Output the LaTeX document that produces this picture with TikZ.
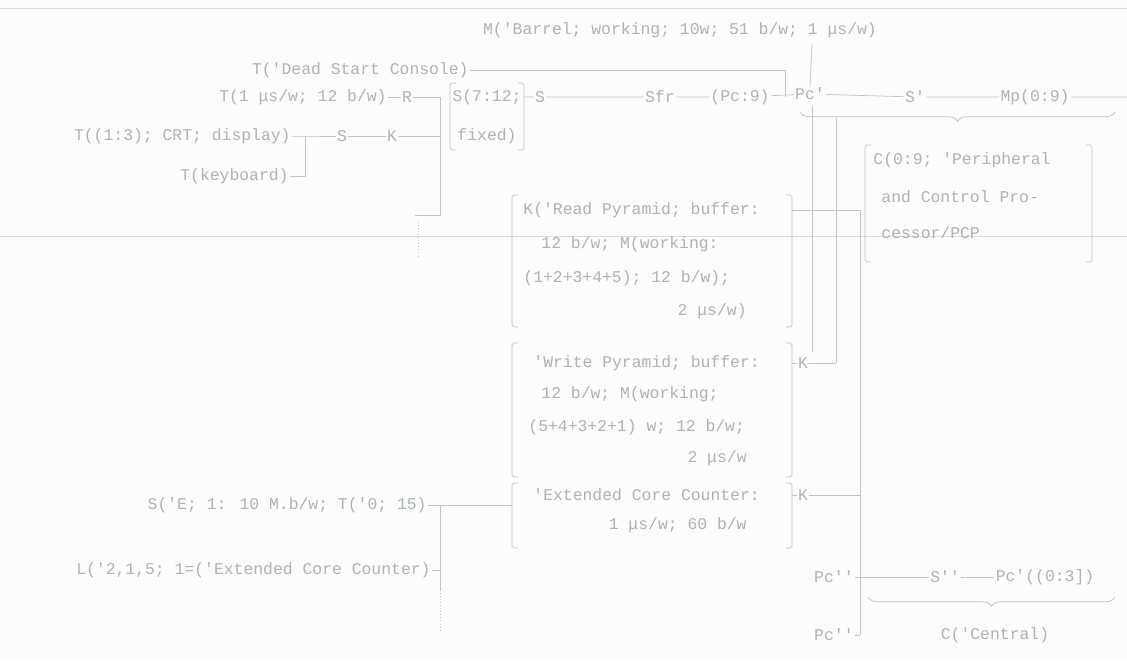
\documentclass[tikz,border=0pt]{standalone}
\usepackage{fontspec}
\newfontfamily\scanfont{Liberation Mono}
\usetikzlibrary{positioning,calc,decorations.pathreplacing}
\definecolor{scanink}{RGB}{190,199,192}
\definecolor{scantext}{RGB}{172,181,175}
\definecolor{scanfaint}{RGB}{216,222,218}
\definecolor{scanpaper}{RGB}{251,252,251}

\begin{document}
\begin{tikzpicture}[
  x=0.03cm,y=-0.03cm,
  wire/.style={draw=scanink,line width=0.6pt},
  dotwire/.style={wire,dotted},
  faint/.style={draw=scanfaint,line width=0.8pt},
  brk/.style={draw=scanink,line width=0.6pt,rounded corners=1.5pt},
  lbl/.style={text=scantext,font=\scanfont\fontsize{14}{16}\selectfont,inner sep=1pt},
  brc/.style={wire,decorate,decoration={brace,mirror,amplitude=8pt}}
]
\fill[scanpaper] (0,0) rectangle (1127,661);
\useasboundingbox (0,0) rectangle (1127,661);
\draw[faint] (0,8) -- (1127,8);
\draw[faint] (0,236) -- (1127,236);

% barrel memory
\node[lbl] (barrel) at (680,30) {M('Barrel; working; 10w; 51 b/w; 1 μs/w)};
\coordinate (mtop) at (812,44);

% console row
\node[lbl,anchor=east] (dstart) at (470,70) {T('Dead Start Console)};
\coordinate (dsbend) at (785,70);
\coordinate (dsjoin) at (785,97);

% bus row
\node[lbl,anchor=east] (tlink) at (388,97) {T(1 μs/w; 12 b/w)};
\node[lbl] (rr) at (407,97) {R};
\coordinate (lbar) at (440,97);
\coordinate (lfoot) at (440,215);
\coordinate (lfootend) at (415,215);
\node[lbl] (sfix1) at (487,97) {S(7:12;};
\node[lbl] (sfix2) at (487,136) {fixed)};
\coordinate (sfixout) at (524,97);
\node[lbl] (sa) at (540,97) {S};
\node[lbl] (sfr) at (660,97) {Sfr};
\node[lbl] (pcn) at (740,97) {(Pc:9)};
\node[lbl] (pcp) at (810,94) {Pc'};
\node[lbl] (sp) at (915,97) {S'};
\node[lbl] (mp) at (1035,97) {Mp(0:9)};
\coordinate (busend) at (1127,97);

% display and keyboard
\node[lbl,anchor=east] (crt) at (292,136) {T((1:3); CRT; display)};
\coordinate (kjoin) at (305,136);
\node[lbl] (sb) at (342,136) {S};
\node[lbl] (kb) at (392,136) {K};
\coordinate (kbar) at (440,136);
\node[lbl,anchor=east] (kbd) at (290,176) {T(keyboard)};

% peripheral processors
\node[lbl,anchor=west] (cp1) at (872,160) {C(0:9; 'Peripheral};
\node[lbl,anchor=west] (cp2) at (880,197) {and Control Pro-};
\node[lbl,anchor=west] (cp3) at (880,233) {cessor/PCP};

% read pyramid
\node[lbl,anchor=west] (rp1) at (522,210) {K('Read Pyramid; buffer:};
\node[lbl,anchor=west] (rp2) at (540,244) {12 b/w; M(working:};
\node[lbl,anchor=west] (rp3) at (522,278) {(1+2+3+4+5); 12 b/w);};
\node[lbl,anchor=east] (rp4) at (748,311) {2 μs/w)};
\coordinate (rpout) at (792,210);

% write pyramid
\node[lbl,anchor=west] (wp1) at (532,363) {'Write Pyramid; buffer:};
\node[lbl,anchor=west] (wp2) at (540,394) {12 b/w; M(working;};
\node[lbl,anchor=west] (wp3) at (527,427) {(5+4+3+2+1) w; 12 b/w;};
\node[lbl,anchor=east] (wp4) at (748,458) {2 μs/w};
\node[lbl] (wk) at (803,363) {K};

% extended core counter
\node[lbl,anchor=west] (ep1) at (532,495) {'Extended Core Counter:};
\node[lbl,anchor=east] (ep2) at (748,525) {1 μs/w; 60 b/w};
\node[lbl] (ek) at (803,495) {K};
\node[lbl,anchor=east] (se) at (428,505) {S('E; 1: 10 M.b/w; T('0; 15)};
\coordinate (ejoin) at (440,505);
\coordinate (ein) at (512,505);
\node[lbl,anchor=east] (ll) at (432,570) {L('2,1,5; 1=('Extended Core Counter)};
\coordinate (lljoin) at (440,570);

% central processor
\node[lbl,anchor=east] (pc2) at (855,577) {Pc''};
\node[lbl] (s2) at (945,577) {S''};
\node[lbl] (pc3) at (1045,577) {Pc'((0:3])};
\node[lbl] (central) at (995,635) {C('Central)};
\node[lbl,anchor=east] (pc4) at (855,635) {Pc''};

% vertical runs
\coordinate (va1) at (812,106);  \coordinate (va2) at (812,352);
\coordinate (vb1) at (836,118);  \coordinate (vb2) at (836,363);
\coordinate (vc1) at (860,210);  \coordinate (vc2) at (860,635);

% brackets
\draw[brk] (456,83) -- (450,83) -- (450,150) -- (456,150);
\draw[brk] (518,83) -- (524,83) -- (524,150) -- (518,150);
\draw[brk] (871,145) -- (865,145) -- (865,262) -- (871,262);
\draw[brk] (1086,145) -- (1092,145) -- (1092,262) -- (1086,262);
\draw[brk] (518,195) -- (512,195) -- (512,327) -- (518,327);
\draw[brk] (786,195) -- (792,195) -- (792,327) -- (786,327);
\draw[brk] (518,343) -- (512,343) -- (512,477) -- (518,477);
\draw[brk] (786,343) -- (792,343) -- (792,477) -- (786,477);
\draw[brk] (518,483) -- (512,483) -- (512,548) -- (518,548);
\draw[brk] (786,483) -- (792,483) -- (792,548) -- (786,548);

% braces
\draw[brc] (800,112) -- (1115,112);
\draw[brc] (868,597) -- (1115,597);

% connectors
\draw[wire] (mtop) -- (pcp.north);
\draw[wire] (dstart.east) -- (dsbend) -- (dsjoin);
\draw[wire] (tlink) -- (rr) -- (lbar);
\draw[wire] (lbar) -- (lfoot) -- (lfootend);
\draw[dotwire] (418,222) -- (418,256);
\draw[wire] (sfixout) -- (sa) -- (sfr) -- (pcn) -- (pcp) -- (sp) -- (mp) -- (busend);
\draw[wire] (crt) -- (kjoin) -- (sb) -- (kb) -- (kbar);
\draw[wire] (kbd.east) -| (kjoin);
\draw[wire] (va1) -- (va2);
\draw[wire] (vb1) -- (vb2);
\draw[wire] (vc1) -- (vc2);
\draw[wire] (rpout) -- (vc1);
\draw[wire] (792,363) -- (wk) -- (vb2);
\draw[wire] (792,495) -- (ek) -- (ek -| vc1);
\draw[wire] (se) -- (ejoin) -- (ein);
\draw[wire] (ejoin) -- (440,590);
\draw[dotwire] (440,590) -- (440,632);
\draw[wire] (ll) -- (lljoin);
\draw[wire] (pc2) -- (pc2 -| vc1) -- (s2) -- (pc3);
\draw[wire] (pc4) -- (vc2);
\end{tikzpicture}
\end{document}
